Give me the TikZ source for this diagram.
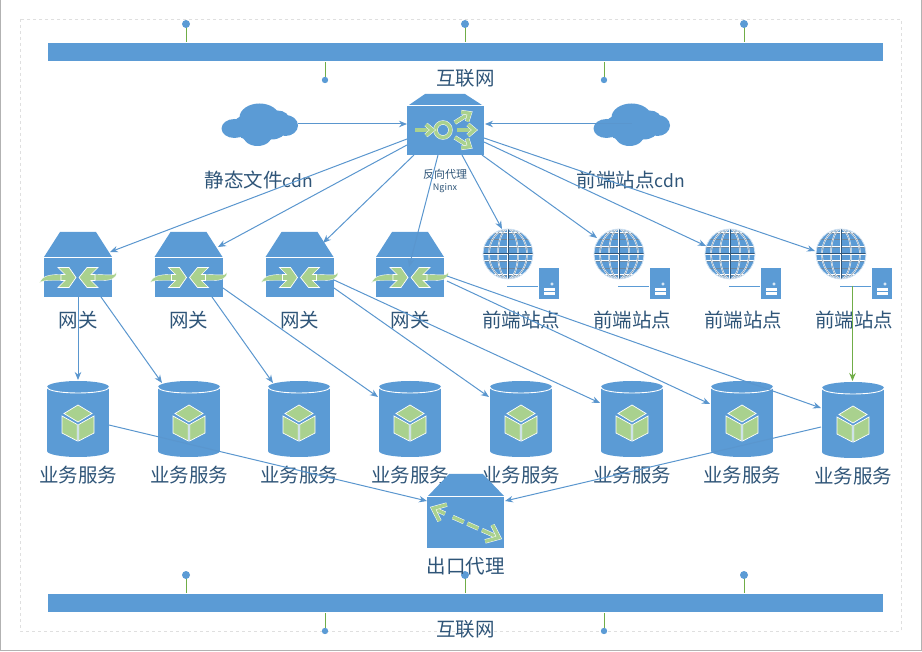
\documentclass[tikz,border=0pt]{standalone}
\usepackage{fontspec}
\setmainfont{Noto Sans CJK SC}
\usepackage{tikz}
\usetikzlibrary{arrows.meta}
\definecolor{netblue}{HTML}{5B9BD5}
\definecolor{linkblue}{HTML}{5A96CE}
\definecolor{leafgreen}{HTML}{A9D18E}
\definecolor{stemgreen}{HTML}{70AD47}
\definecolor{labelblue}{HTML}{2F5578}
\tikzset{
    link/.style={draw=linkblue, line width=1pt, -{Stealth[length=8pt,width=6.5pt]}},
    biglabel/.style={text=labelblue, font=\fontsize{19.5}{21}\selectfont, inner sep=0pt},
    smalllabel/.style={text=labelblue, inner sep=0pt},
    leaf/.style={fill=leafgreen, draw=white, line width=0.7pt},
    leafline/.style={draw=white, double=leafgreen, double distance=3.4pt, line width=0.5pt},
    holder/.style={inner sep=0pt, outer sep=0pt}
}
\begin{document}
\begin{tikzpicture}[x=1pt, y=-1pt]
    \useasboundingbox (0,0) rectangle (922,652);
    % page edge and dashed frame
    \draw[color=gray!60, line width=1.2pt] (0.5,0) -- (0.5,650.5) -- (921.5,650.5) -- (921.5,0);
    \draw[gray!25, dashed, line width=0.7pt] (20,19) rectangle (901,631);

    % bars
    \foreach \name/\yy in {top/43, bot/594} {
        \fill[netblue] (48,\yy) rectangle (883,\yy+18);
        \foreach \xx in {186,465,744} {
            \draw[stemgreen, line width=0.9pt] (\xx,\yy-1) -- (\xx,\yy-18);
            \fill[netblue] (\xx,\yy-19) circle (4);
        }
        \foreach \xx in {325,604} {
            \draw[stemgreen, line width=0.9pt] (\xx,\yy+19) -- (\xx,\yy+36);
            \fill[netblue] (\xx,\yy+37) circle (3.2);
        }
    }
    \node[biglabel] (nettop) at (465.5,78) {互联网};
    \node[biglabel] (netbot) at (465.5,629) {互联网};

    % clouds
    \foreach \name/\xx in {cdnl/259.5, cdnr/631.5} {
        \begin{scope}[shift={(\xx,124.5)}]
            \fill[netblue] (-25,4) circle (13 and 9.5);
            \fill[netblue] (0,-7) circle (20 and 14);
            \fill[netblue] (18,-5) circle (12 and 9);
            \fill[netblue] (26,1) circle (12.5 and 10.5);
            \fill[netblue] (-2,10) circle (15 and 11.5);
            \fill[netblue] (12,6) circle (14 and 9);
            \fill[netblue] (-14,1) circle (12 and 10);
            \fill[netblue] (-15,10) circle (5 and 4.5);
        \end{scope}
        \coordinate (\name) at (\xx,124);
    }
    \node[biglabel] (cdnltext) at (259,180) {静态文件{\fontsize{17.5}{21}\selectfont cdn}};
    \node[biglabel] (cdnrtext) at (631,180) {前端站点{\fontsize{17.5}{21}\selectfont cdn}};

    % reverse proxy
    \fill[netblue] (409,105) -- (425,94) -- (465,94) -- (482,105) -- cycle;
    \fill[netblue] (407,106) rectangle (484,155);
    \node[holder, minimum width=77pt, minimum height=61pt] (proxy) at (445.5,124.5) {};
    \begin{scope}[shift={(443,130)}]
        \draw[leafline] (0,0) circle (7.5);
        \foreach \ang in {-32,0,32} {
            \begin{scope}[rotate=\ang]
                \draw[leafline] (14,0) -- (31,0);
                \draw[leafline] (25,-5.5) -- (31.5,0) -- (25,5.5);
            \end{scope}
        }
        \draw[leafline] (-28,0) -- (-11,0);
        \draw[leafline] (-17,-5.5) -- (-10.5,0) -- (-17,5.5);
    \end{scope}
    \node[smalllabel, font=\fontsize{11}{12}\selectfont] (proxytext) at (445,174) {反向代理};
    \node[smalllabel, font=\fontsize{9}{10}\selectfont] (proxysub) at (445,188) {Nginx};

    % gateways
    \foreach \name/\xx in {gwa/78, gwb/188.5, gwc/299.5, gwd/410} {
        \begin{scope}[shift={(\xx,0)}]
            \fill[netblue] (-34,257) -- (-18,232) -- (18,232) -- (34,257) -- cycle;
            \fill[netblue] (-34,258) rectangle (34,297);
            \filldraw[leafgreen, draw=white, line width=0.4pt] (-38.5,283) .. controls (-36,275.5) and (-28,274.5) .. (-17,274.5) -- (-17,280.5) -- (-26,280.5) .. controls (-32,280.5) and (-36,280.5) .. (-38.5,283) -- cycle;
            \filldraw[leafgreen, draw=white, line width=0.4pt] (38.5,272) .. controls (37,276.5) and (30,274.5) .. (17,274.5) -- (17,280.5) -- (24,280.5) .. controls (32,280.5) and (39,279) .. (38.5,272) -- cycle;
            \draw[leaf] (-20,267.5) -- (-9,267.5) -- (-2,277.5) -- (-9,287.5) -- (-20,287.5) -- (-13,280.5) -- (-17,280.5) -- (-17,274.5) -- (-13,274.5) -- cycle;
            \draw[leaf] (20,267.5) -- (9,267.5) -- (1,277.5) -- (9,287.5) -- (20,287.5) -- (13,280.5) -- (17,280.5) -- (17,274.5) -- (13,274.5) -- cycle;
        \end{scope}
        \node[holder, minimum width=68pt, minimum height=65pt] (\name) at (\xx,264.5) {};
        \node[biglabel] (\name text) at (\xx,320) {网关};
    }

    % front-end sites
    \foreach \name/\xx in {sita/508, sitb/619, sitc/730, sitd/841} {
        \begin{scope}[shift={(\xx,254)}]
            \begin{scope}
                \clip (0,0) circle (25);
                \fill[netblue] (-25,-25) rectangle (25,25);
                \foreach \lat in {-21,-14.5,-7,7,14.5,21} {
                    \draw[white, line width=1.5pt] (-25,\lat) -- (25,\lat);
                    \draw[labelblue!70, line width=0.4pt] (-25,\lat) -- (25,\lat);
                }
                \foreach \lon in {10,19} {
                    \draw[white, line width=1.5pt] (0,0) circle (\lon pt and 25pt);
                    \draw[labelblue!70, line width=0.4pt] (0,0) circle (\lon pt and 25pt);
                }
                \draw[white, line width=2.6pt] (-25,0) -- (25,0) (0,-25) -- (0,25);
                \draw[labelblue, line width=1pt] (-25,0) -- (25,0) (0,-25) -- (0,25);
            \end{scope}
            \draw[white!70!netblue, line width=0.8pt] (0,0) circle (25);
        \end{scope}
        \node[holder, minimum size=50pt] (\name) at (\xx,254) {};
        \draw[netblue, line width=0.9pt] (\xx-1,286) -- (\xx+30,286);
        \fill[netblue] (\xx+31,268) rectangle (\xx+51,299);
        \fill[white] (\xx+36,288) rectangle (\xx+47,291);
        \fill[white] (\xx+36,292.5) rectangle (\xx+47,295.5);
        \fill[white] (\xx+44,284) circle (1.6);
        \fill[netblue] (\xx+44,284) circle (0.7);
        \node[biglabel] (\name text) at (\xx+13,320) {前端站点};
    }

    % business services
    \foreach \name/\xx/\yy in {svca/78/0, svcb/189/0, svcc/299/0, svcd/410/0, svce/521/0, svcf/632/0, svcg/742/0, svch/853/1} {
        \begin{scope}[shift={(\xx,\yy)}]
            \fill[netblue] (-31,387) rectangle (31,451);
            \fill[netblue] (0,387) circle (31 and 6);
            \fill[netblue] (0,451) circle (31 and 6);
            \draw[white, line width=0.9pt] (-31,387) .. controls (-31,395) and (31,395) .. (31,387);
            \draw[leaf] (0,405) -- (14,413.5) -- (0,422) -- (-14,413.5) -- cycle;
            \draw[leaf] (-16,416) -- (-0.7,424.5) -- (-0.7,441) -- (-16,433) -- cycle;
            \draw[leaf] (0.7,424.5) -- (16,416) -- (16,433) -- (0.7,441) -- cycle;
        \end{scope}
        \node[holder, minimum width=62pt, minimum height=76pt] (\name) at (\xx,419+\yy) {};
        \node[biglabel] (\name text) at (\xx,475+\yy) {业务服务};
    }

    % exit proxy
    \fill[netblue] (428,496) -- (449,474) -- (483,474) -- (504,496) -- cycle;
    \fill[netblue] (427,497) rectangle (504,548);
    \node[holder, minimum width=77pt, minimum height=74pt] (exit) at (465.5,511) {};
    \begin{scope}[shift={(466,523)}, rotate=-24]
        \draw[leafline] (-36,0) -- (-23,0);
        \draw[leafline] (-25,-9) -- (-36,0) -- (-25,9);
        \draw[leafline] (-14.5,0) -- (-2.5,0);
        \draw[leafline] (1.5,0) -- (13.5,0);
        \draw[leafline] (17.5,0) -- (36,0);
        \draw[leafline] (25,-9) -- (36,0) -- (25,9);
    \end{scope}
    \node[biglabel] (exittext) at (465.5,566) {出口代理};

    % link ends
    \foreach \name/\xx/\yy in {
        cdnlout/298/124, pxl/407/124, pxr/485/124,
        pxa/407/139, pxb/407/145, pxc/414/155, pxd/438/155,
        pxe/462/155, pxf/482/155, pxg/484/142, pxh/484/138,
        gwain/110/252, gwbin/218/247, gwcin/323/243, gwdin/409/267,
        sitain/502/229, sitbin/597/238, sitcin/706/246, sitdin/815/251,
        gwaa/78/297, gwab/101/297, gwba/212/297, gwbb/223/288,
        gwca/334/280, gwcb/334/288, gwda/447/276, gwdb/447/281,
        svcain/78/380, svcbin/162/383, svccin/273/383, svcdin/378/397,
        svcein/489/397, svcfin/600/403, svcgin/710/404, svchin/821/408,
        svcaout/109/425, svchout/821/427, exitl/427/501, exitr/505/501%
    } {
        \coordinate (\name) at (\xx,\yy);
    }
    \coordinate (sitdout) at (852.5,286);
    \coordinate (svchtop) at (852.5,381);

    \foreach \from/\to in {cdnlout/pxl, cdnr/pxr, pxa/gwain, pxb/gwbin, pxc/gwcin, pxd/gwdin,
        pxe/sitain, pxf/sitbin, pxg/sitcin, pxh/sitdin,
        gwaa/svcain, gwab/svcbin, gwba/svccin, gwbb/svcdin,
        gwcb/svcein, gwca/svcfin, gwdb/svcgin, gwda/svchin,
        svcaout/exitl, svchout/exitr} {
        \draw[link] (\from) -- (\to);
    }
    \draw[link, draw=stemgreen, fill=stemgreen, line width=1.2pt] (sitdout) -- (svchtop);
\end{tikzpicture}
\end{document}
